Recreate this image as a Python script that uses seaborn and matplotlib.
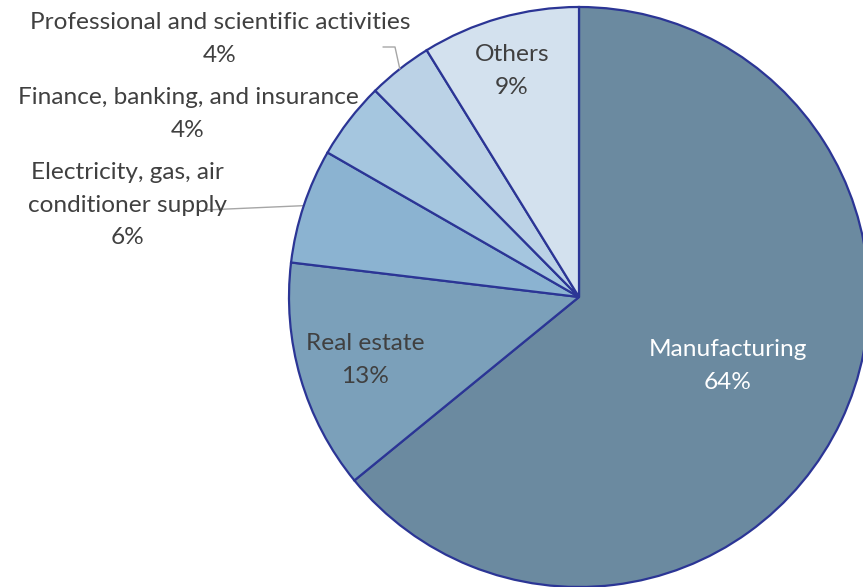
import numpy as np
import matplotlib
matplotlib.use("Agg")
import matplotlib.pyplot as plt
import seaborn as sns

categories = ["Manufacturing", "Real estate", "Electricity, gas, air\nconditioner supply",
              "Finance, banking, and insurance", "Professional and scientific activities", "Others"]
values = [64.1, 12.8, 6.4, 4.3, 3.6, 8.8]
colors = ["#6B8AA0", "#7BA0BA", "#8BB3D1", "#A5C6DF", "#BBD2E6", "#D3E1EE"]

sns.set_theme(style="white")
plt.rcParams['font.family'] = ['Lato', 'DejaVu Sans']

W, H = 863, 587
fig = plt.figure(figsize=(W / 100, H / 100), dpi=100)
ax = fig.add_axes([0, 0, 1, 1])

cx, cy, r = 579, H - 297, 290
wedges, _ = ax.pie(values, colors=colors, startangle=90, counterclock=False,
                   center=(cx, cy), radius=r, frame=True,
                   wedgeprops=dict(edgecolor="#2B3595", linewidth=1.6))
ax.set_xlim(0, W)
ax.set_ylim(0, H)
ax.set_aspect("equal")
ax.axis("off")

pct = [f"{v:.0f}%" for v in values]
txt = "#404040"
fs = 17.6

# label positions in pixel coords (top-left origin)
pos = [(728, 366), (365, 360), (127, 205), (188, 114), (220, 39), (512, 71)]
tcol = ["white", txt, txt, txt, txt, txt]
for i, (c, p) in enumerate(zip(categories, pct)):
    x, y = pos[i]
    ax.text(x, H - y, f"{c}\n{p}", ha="center", va="center", fontsize=fs,
            color=tcol[i], linespacing=1.65)

# leader lines
def edge_point(i, frac=1.0):
    w = wedges[i]
    mid = np.deg2rad((w.theta1 + w.theta2) / 2)
    return cx + r * frac * np.cos(mid), cy + r * frac * np.sin(mid)

ex, ey = edge_point(2)
ax.plot([205, ex], [H - 210, ey], color="#A6A6A6", lw=1.0, zorder=0.5)
px, py = edge_point(4)
ax.plot([383, 395, px], [H - 47, H - 47, py], color="#A6A6A6", lw=1.0, zorder=3)

fig.savefig("out.png", dpi=100)
